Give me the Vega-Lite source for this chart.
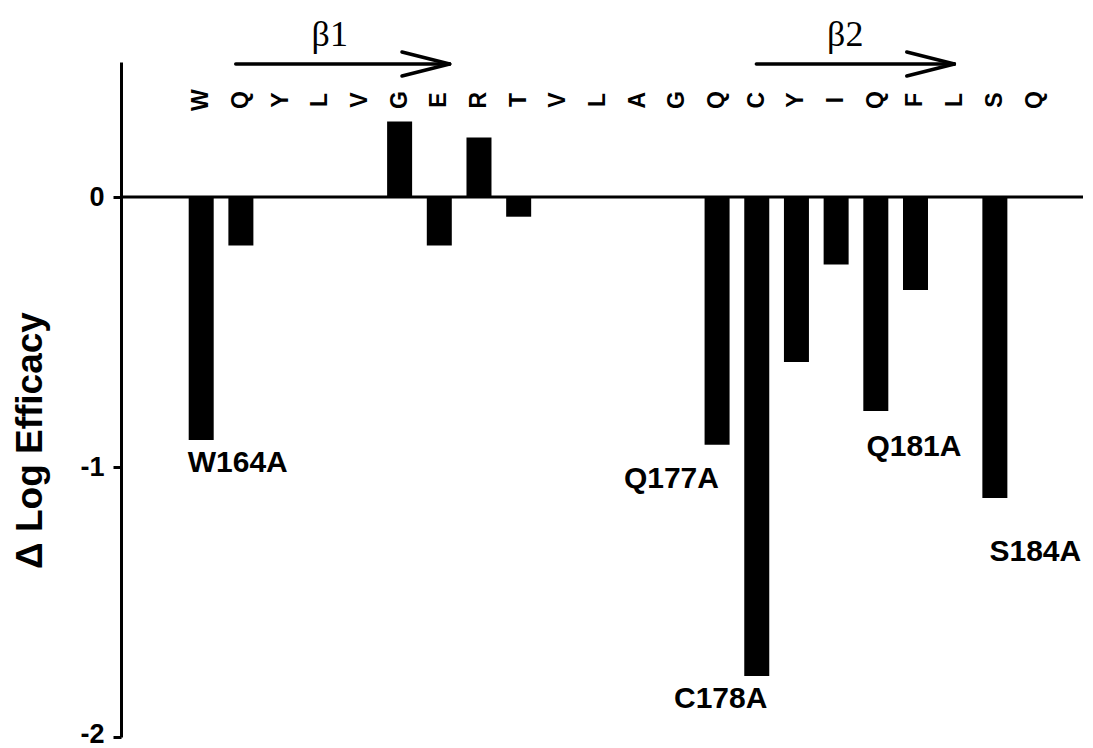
{
  "$schema": "https://vega.github.io/schema/vega-lite/v6.json",
  "width": 962,
  "height": 675,
  "autosize": "none",
  "padding": {"left": 121, "top": 62, "right": 10, "bottom": 11},
  "background": "white",
  "config": {"view": {"stroke": null}},
  "datasets": {
    "residues": [
      {"pos": 164, "res": "W", "value": -0.90},
      {"pos": 165, "res": "Q", "value": -0.18},
      {"pos": 166, "res": "Y", "value": null},
      {"pos": 167, "res": "L", "value": null},
      {"pos": 168, "res": "V", "value": null},
      {"pos": 169, "res": "G", "value": 0.28},
      {"pos": 170, "res": "E", "value": -0.18},
      {"pos": 171, "res": "R", "value": 0.22},
      {"pos": 172, "res": "T", "value": -0.073},
      {"pos": 173, "res": "V", "value": null},
      {"pos": 174, "res": "L", "value": null},
      {"pos": 175, "res": "A", "value": null},
      {"pos": 176, "res": "G", "value": null},
      {"pos": 177, "res": "Q", "value": -0.918},
      {"pos": 178, "res": "C", "value": -1.774},
      {"pos": 179, "res": "Y", "value": -0.611},
      {"pos": 180, "res": "I", "value": -0.25},
      {"pos": 181, "res": "Q", "value": -0.793},
      {"pos": 182, "res": "F", "value": -0.344},
      {"pos": 183, "res": "L", "value": null},
      {"pos": 184, "res": "S", "value": -1.115},
      {"pos": 185, "res": "Q", "value": null}
    ],
    "mutants": [
      {"label": "W164A", "lx": 164.92, "ly": -0.985},
      {"label": "Q177A", "lx": 175.85, "ly": -1.044},
      {"label": "C178A", "lx": 177.09, "ly": -1.859},
      {"label": "Q181A", "lx": 181.96, "ly": -0.926},
      {"label": "S184A", "lx": 185.02, "ly": -1.315}
    ],
    "arrows": [
      {"x": 164.87, "y": 0.4926, "x2": 170.26, "y2": 0.4926},
      {"x": 169.06, "y": 0.537, "x2": 170.26, "y2": 0.4926},
      {"x": 169.06, "y": 0.448, "x2": 170.26, "y2": 0.4926},
      {"x": 177.99, "y": 0.4926, "x2": 182.98, "y2": 0.4926},
      {"x": 181.78, "y": 0.537, "x2": 182.98, "y2": 0.4926},
      {"x": 181.78, "y": 0.448, "x2": 182.98, "y2": 0.4926}
    ],
    "strands": [
      {"name": "β1", "sx": 167.24},
      {"name": "β2", "sx": 180.23}
    ],
    "baseline": [
      {"level": 0}
    ]
  },
  "layer": [
    {
      "data": {"name": "baseline"},
      "mark": {"type": "rule", "color": "black", "strokeWidth": 3},
      "encoding": {"y": {"field": "level", "type": "quantitative"}}
    },
    {
      "data": {"name": "residues"},
      "mark": {"type": "bar", "color": "black", "size": 25},
      "encoding": {
        "x": {"field": "pos", "type": "quantitative", "scale": {"domain": [162.105, 186.095], "nice": false, "zero": false}, "axis": null},
        "y": {"field": "value", "type": "quantitative", "scale": {"domain": [-2, 0.5], "nice": false},
          "axis": {"values": [-2, -1, 0], "title": "Δ Log Efficacy", "grid": false, "domainColor": "black", "domainWidth": 3, "tickColor": "black", "tickWidth": 3, "tickSize": 8,
            "labelExpr": "datum.value == 0 ? '0' : '-' + abs(datum.value)",
            "labelFont": "Liberation Sans", "labelFontWeight": "bold", "labelFontSize": 27, "labelColor": "black", "labelPadding": 9,
            "labelOffset": {"condition": {"test": "datum.value == -2", "value": -3}, "value": 0},
            "titleFont": "Liberation Sans", "titleFontWeight": "bold", "titleFontSize": 37, "titleColor": "black", "titleX": -91, "titleY": 378, "titleBaseline": "middle", "titleAngle": -90}}
      }
    },
    {
      "data": {"name": "residues"},
      "mark": {"type": "text", "angle": 270, "font": "Liberation Sans", "fontWeight": "bold", "fontSize": 23, "color": "black", "baseline": "middle", "align": "center"},
      "encoding": {
        "x": {"field": "pos", "type": "quantitative"},
        "y": {"datum": 0.359},
        "text": {"field": "res"}
      }
    },
    {
      "data": {"name": "arrows"},
      "mark": {"type": "rule", "color": "black", "strokeWidth": 3.5, "strokeCap": "round"},
      "encoding": {
        "x": {"field": "x", "type": "quantitative"},
        "x2": {"field": "x2"},
        "y": {"field": "y", "type": "quantitative"},
        "y2": {"field": "y2"}
      }
    },
    {
      "data": {"name": "strands"},
      "mark": {"type": "text", "font": "Liberation Serif", "fontSize": 36, "color": "black", "baseline": "middle", "align": "center"},
      "encoding": {
        "x": {"field": "sx", "type": "quantitative"},
        "y": {"datum": 0.6},
        "text": {"field": "name"}
      }
    },
    {
      "data": {"name": "mutants"},
      "mark": {"type": "text", "font": "Liberation Sans", "fontWeight": "bold", "fontSize": 30, "color": "black", "baseline": "middle", "align": "center"},
      "encoding": {
        "x": {"field": "lx", "type": "quantitative"},
        "y": {"field": "ly", "type": "quantitative"},
        "text": {"field": "label"}
      }
    }
  ]
}
